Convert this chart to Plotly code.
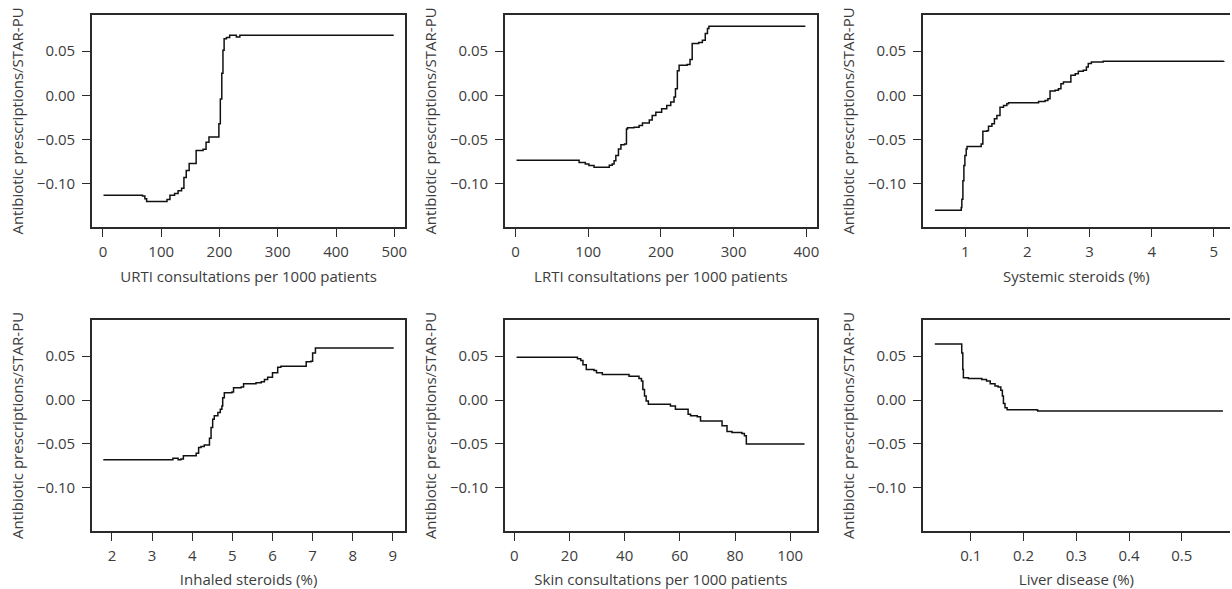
import plotly.graph_objects as go

# ---------------- data ----------------
urti_x = [1, 68, 72, 75, 108, 110, 115, 123, 129, 135, 139, 143, 148, 155, 160, 172, 177, 182, 198, 199, 201.5, 204, 206, 208, 212, 217.5, 229, 235, 499]
urti_y = [-0.113, -0.114, -0.117, -0.120, -0.120, -0.118, -0.113, -0.111, -0.108, -0.105, -0.093, -0.085, -0.077, -0.077, -0.0625, -0.061, -0.053, -0.047, -0.047, -0.032, -0.004, 0.025, 0.051, 0.064, 0.0655, 0.068, 0.066, 0.068, 0.068]

lrti_x = [1.4, 85, 87.5, 96, 101, 108, 124, 129, 133, 135.6, 138, 141.6, 145, 150, 152.6, 154, 163, 170, 174.6, 184, 188, 193, 201, 208, 213.5, 218, 220, 222.6, 225, 236, 240, 243, 252, 257, 261, 264, 266, 398.6]
lrti_y = [-0.0735, -0.0735, -0.076, -0.0777, -0.0795, -0.0814, -0.0814, -0.079, -0.0777, -0.074, -0.068, -0.0606, -0.056, -0.055, -0.038, -0.0367, -0.036, -0.034, -0.0314, -0.028, -0.0227, -0.019, -0.015, -0.0114, -0.0076, -0.0019, 0.0076, 0.028, 0.034, 0.035, 0.0405, 0.0587, 0.060, 0.0625, 0.070, 0.0758, 0.0784, 0.0784]

sys_x = [0.513, 0.92, 0.936, 0.946, 0.963, 0.979, 0.995, 1.016, 1.03, 1.214, 1.257, 1.284, 1.35, 1.375, 1.43, 1.47, 1.51, 1.56, 1.616, 1.67, 1.696, 2.15, 2.18, 2.285, 2.33, 2.365, 2.446, 2.5, 2.54, 2.58, 2.65, 2.70, 2.77, 2.82, 2.9, 2.95, 2.98, 3.03, 3.22, 5.16]
sys_y = [-0.130, -0.130, -0.127, -0.1175, -0.0966, -0.0795, -0.068, -0.0606, -0.058, -0.058, -0.055, -0.0405, -0.040, -0.035, -0.032, -0.0265, -0.0227, -0.0133, -0.0114, -0.0095, -0.0083, -0.0083, -0.0068, -0.0057, -0.0038, 0.0049, 0.0057, 0.0076, 0.0133, 0.0152, 0.0152, 0.0227, 0.0246, 0.0273, 0.0284, 0.0322, 0.036, 0.0379, 0.0387, 0.039]

inh_x = [1.785, 3.48, 3.52, 3.62, 3.65, 3.72, 3.78, 4.06, 4.10, 4.16, 4.22, 4.3, 4.4, 4.43, 4.47, 4.51, 4.55, 4.64, 4.70, 4.74, 4.76, 4.80, 4.99, 5.03, 5.22, 5.28, 5.59, 5.72, 5.80, 5.88, 6.0, 6.13, 6.21, 6.75, 6.84, 6.96, 7.0, 7.07, 9.02]
inh_y = [-0.0679, -0.0679, -0.0663, -0.0663, -0.068, -0.067, -0.0633, -0.0633, -0.0607, -0.054, -0.0528, -0.0513, -0.0513, -0.0434, -0.0313, -0.0219, -0.018, -0.0143, -0.0106, -0.0068, 0.0026, 0.0083, 0.009, 0.0139, 0.0147, 0.0185, 0.0196, 0.0207, 0.0234, 0.026, 0.031, 0.0373, 0.0385, 0.0385, 0.0434, 0.0441, 0.0535, 0.0592, 0.0592]

skin_x = [0.84, 22, 22.9, 24.1, 24.9, 26.1, 28.9, 29.8, 31.9, 41, 41.6, 44.3, 45.2, 46.1, 46.6, 47.2, 47.8, 48.6, 55.4, 56.6, 58.4, 62, 63, 63.9, 66.3, 67.5, 74.1, 75.3, 77.1, 78.9, 82.5, 83.4, 84.1, 105.2]
skin_y = [0.0486, 0.0486, 0.047, 0.045, 0.040, 0.0347, 0.0336, 0.031, 0.029, 0.029, 0.027, 0.027, 0.0245, 0.0215, 0.012, 0.0045, -0.0011, -0.0049, -0.0049, -0.0068, -0.0106, -0.0106, -0.0162, -0.018, -0.019, -0.0238, -0.0238, -0.0294, -0.0358, -0.037, -0.038, -0.0407, -0.050, -0.050]

liver_x = [0.0319, 0.0817, 0.083, 0.085, 0.0861, 0.0956, 0.121, 0.130, 0.137, 0.146, 0.152, 0.157, 0.160, 0.162, 0.165, 0.169, 0.225, 0.227, 0.578]
liver_y = [0.0637, 0.0637, 0.0535, 0.0347, 0.0253, 0.0245, 0.0234, 0.0215, 0.0185, 0.0158, 0.0147, 0.011, 0.0045, -0.0041, -0.0087, -0.011, -0.0113, -0.0124, -0.0124]

x_titles = ["URTI consultations per 1000 patients", "LRTI consultations per 1000 patients",
            "Systemic steroids (%)", "Inhaled steroids (%)",
            "Skin consultations per 1000 patients", "Liver disease (%)"]
y_title = "Antibiotic prescriptions/STAR-PU"
y_ticks = [-0.10, -0.05, 0.00, 0.05]
x_ticks = [[0, 100, 200, 300, 400, 500], [0, 100, 200, 300, 400], [1, 2, 3, 4, 5],
           [2, 3, 4, 5, 6, 7, 8, 9], [0, 20, 40, 60, 80, 100], [0.1, 0.2, 0.3, 0.4, 0.5]]
x_tick_text = [["0", "100", "200", "300", "400", "500"], ["0", "100", "200", "300", "400"],
               ["1", "2", "3", "4", "5"], ["2", "3", "4", "5", "6", "7", "8", "9"],
               ["0", "20", "40", "60", "80", "100"], ["0.1", "0.2", "0.3", "0.4", "0.5"]]

series = [(urti_x, urti_y), (lrti_x, lrti_y), (sys_x, sys_y),
          (inh_x, inh_y), (skin_x, skin_y), (liver_x, liver_y)]

# ---------------- layout geometry ----------------
W, H = 1232, 589
x_ranges = [[-19, 519], [-14.6, 414.6], [0.318, 5.26], [1.50, 9.31], [-3.4, 109.7], [0.0092, 0.5914]]
y_range = [-0.149, 0.091]
col_dom = [[92 / W, 406 / W], [505.7 / W, 818.3 / W], [924.3 / W, 1.0]]
row_dom = [[362 / H, 574 / H], [58 / H, 269 / H]]

FONT = "Open Sans"
FS = 15
TXT = "#3c3c3c"
LINE = "#2a2a2a"

fig = go.Figure()
layout = dict(
    width=W, height=H, margin=dict(l=0, r=0, t=0, b=0),
    paper_bgcolor="white", plot_bgcolor="white", showlegend=False,
    font=dict(family=FONT, size=FS, color=TXT),
)

for i, (xs, ys) in enumerate(series):
    r, c = divmod(i, 3)
    n = "" if i == 0 else str(i + 1)
    fig.add_trace(go.Scatter(x=xs, y=ys, mode="lines", line=dict(shape="hv", color="#111111", width=1.5),
                             xaxis="x" + n, yaxis="y" + n, hoverinfo="skip"))
    layout["xaxis" + n] = dict(
        domain=col_dom[c], anchor="y" + n, range=x_ranges[i],
        tickmode="array", tickvals=x_ticks[i], ticktext=x_tick_text[i],
        showgrid=False, zeroline=False, showline=True, linecolor=LINE, linewidth=1.5,
        mirror=True, ticks="outside", ticklen=8, tickwidth=1.2, tickcolor=LINE,
        ticklabelstandoff=2,
        title=dict(text=x_titles[i], standoff=12, font=dict(size=FS, color=TXT)),
        tickfont=dict(size=FS, color=TXT),
    )
    layout["yaxis" + n] = dict(
        domain=row_dom[r], anchor="x" + n, range=y_range,
        tickmode="array", tickvals=y_ticks, tickformat=".2f",
        showgrid=False, zeroline=False, showline=True, linecolor=LINE, linewidth=1.5,
        mirror=(c != 2), ticks="outside", ticklen=8, tickwidth=1.2, tickcolor=LINE,
        ticklabelstandoff=4,
        title=dict(text=y_title, standoff=10, font=dict(size=FS, color=TXT)),
        tickfont=dict(size=FS, color=TXT),
    )

fig.update_layout(**layout)
fig.write_html("out.html")
